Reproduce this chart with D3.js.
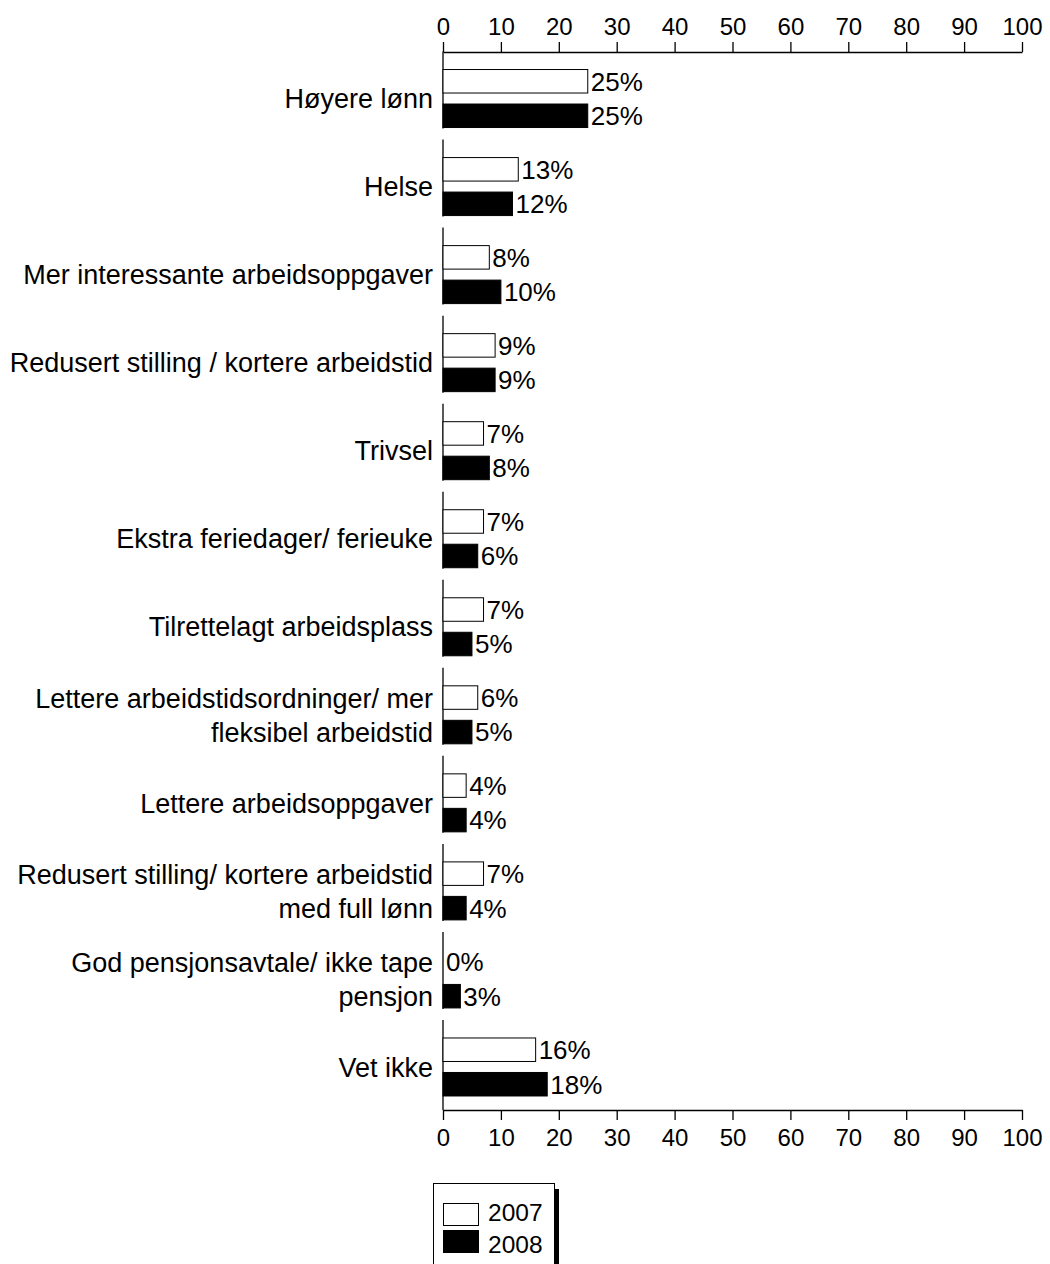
<!DOCTYPE html>
<html><head><meta charset="utf-8">
<script src="https://cdn.jsdelivr.net/npm/d3@7"></script>
<style>body{margin:0;background:#fff}svg{display:block}text{font-family:"Liberation Sans",Arial,sans-serif;fill:#000}</style>
</head><body>
<script>
const categories = [
  ["Høyere lønn"],
  ["Helse"],
  ["Mer interessante arbeidsoppgaver"],
  ["Redusert stilling / kortere arbeidstid"],
  ["Trivsel"],
  ["Ekstra feriedager/ ferieuke"],
  ["Tilrettelagt arbeidsplass"],
  ["Lettere arbeidstidsordninger/ mer", "fleksibel arbeidstid"],
  ["Lettere arbeidsoppgaver"],
  ["Redusert stilling/ kortere arbeidstid", "med full lønn"],
  ["God pensjonsavtale/ ikke tape", "pensjon"],
  ["Vet ikke"]
];
const values2007 = [25, 13, 8, 9, 7, 7, 7, 6, 4, 7, 0, 16];
const values2008 = [25, 12, 10, 9, 8, 6, 5, 5, 4, 4, 3, 18];
const seriesNames = ["2007", "2008"];
const xTicks = [0,10,20,30,40,50,60,70,80,90,100];

const W = 1050, H = 1264;
const svg = d3.select("body").append("svg").attr("width", W).attr("height", H);
const x = d3.scaleLinear().domain([0,100]).range([443,1022]);
const y = d3.scaleBand().domain(d3.range(categories.length)).range([54.5,1111]);
const axisTop = 52, axisBottom = 1110;
const fsTick = 24, fsVal = 26, fsCat = 27, fsLeg = 24.5;

const gTop = svg.append("g").attr("transform",`translate(0,${axisTop})`)
  .call(d3.axisTop(x).tickValues(xTicks).tickSize(10).tickPadding(7).tickSizeOuter(0));
const gBot = svg.append("g").attr("transform",`translate(0,${axisBottom})`)
  .call(d3.axisBottom(x).tickValues(xTicks).tickSize(10).tickPadding(9).tickSizeOuter(0));
[gTop,gBot].forEach(g=>{
  g.select(".domain").attr("stroke","#000").attr("stroke-width",1.3);
  g.selectAll(".tick line").attr("stroke","#000").attr("stroke-width",1.3);
  g.selectAll(".tick text").attr("font-size",fsTick).attr("font-family","'Liberation Sans',Arial,sans-serif").attr("fill","#000");
});

// segmented left axis
categories.forEach((c,i)=>{
  const cy = y(i) + y.bandwidth()/2;
  const y2 = i === categories.length-1 ? axisBottom : cy + 30;
  svg.append("line").attr("x1",x(0)).attr("x2",x(0)).attr("y1",cy-47).attr("y2",y2)
    .attr("stroke","#000").attr("stroke-width",1.3);
});

const barH = 23.5;
const series = [
  {name: seriesNames[0], vals: values2007, off: -29, fill:"#fff"},
  {name: seriesNames[1], vals: values2008, off: 5.5, fill:"#000"}
];
series.forEach(s=>{
  const g = svg.append("g");
  g.selectAll("rect").data(s.vals).join("rect")
    .attr("x", x(0))
    .attr("y", (d,i)=> y(i)+y.bandwidth()/2 + s.off)
    .attr("width", d=> x(d)-x(0))
    .attr("height", barH)
    .attr("fill", s.fill)
    .attr("stroke", d=> d>0 ? "#000" : "none")
    .attr("stroke-width", 1);
  g.selectAll("text").data(s.vals).join("text")
    .attr("x", d=> x(d)+3)
    .attr("y", (d,i)=> y(i)+y.bandwidth()/2 + s.off + barH/2)
    .attr("dy","0.36em")
    .attr("font-size", fsVal)
    .text(d=> d+"%");
});

categories.forEach((lines,i)=>{
  const cy = y(i) + y.bandwidth()/2;
  const t = svg.append("text").attr("text-anchor","end").attr("font-size",fsCat);
  lines.forEach((ln,j)=>{
    const off = lines.length===1 ? 0 : (j===0 ? -17 : 17);
    t.append("tspan").attr("x",433).attr("y",cy+off).attr("dy","0.36em").text(ln);
  });
});

// legend
const lg = svg.append("g");
lg.append("rect").attr("x",555).attr("y",1189).attr("width",4).attr("height",80).attr("fill","#000");
lg.append("rect").attr("x",433.5).attr("y",1183.5).attr("width",121).attr("height",90)
  .attr("fill","#fff").attr("stroke","#000").attr("stroke-width",1);
series.forEach((s,k)=>{
  const yy = 1203 + k*27;
  lg.append("rect").attr("x",443.5).attr("y",yy+0.5).attr("width",35).attr("height",22)
    .attr("fill",s.fill).attr("stroke","#000").attr("stroke-width",1);
  lg.append("text").attr("x",488).attr("y",1212 + k*32).attr("dy","0.36em").attr("font-size",fsLeg).text(s.name);
});
</script>
</body></html>
